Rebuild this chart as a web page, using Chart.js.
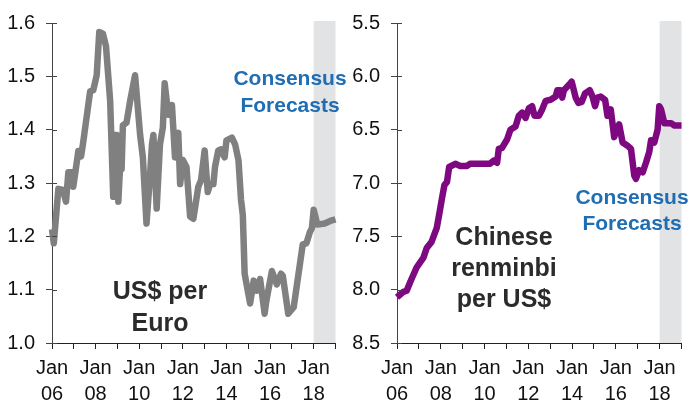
<!DOCTYPE html>
<html>
<head>
<meta charset="utf-8">
<script src="https://cdn.jsdelivr.net/npm/chart.js@4/dist/chart.umd.min.js"></script>
<style>
  html, body { margin: 0; padding: 0; background: #fff; }
  #wrap { position: relative; width: 691px; height: 409px; overflow: hidden; font-family: "Liberation Sans", Arial, sans-serif; }
  canvas { position: absolute; top: 0; }
  #euro-chart { left: 0; }
  #yuan-chart { left: 345px; }
  .note { position: absolute; text-align: center; font-weight: bold; white-space: nowrap; }
  .title { font-size: 25px; line-height: 32px; color: #2b2b2b; }
  .forecast { font-size: 21px; line-height: 27px; color: #1f6db3; }
</style>
</head>
<body>
<div id="wrap">
  <canvas id="euro-chart" width="345" height="409"></canvas>
  <canvas id="yuan-chart" width="346" height="409"></canvas>
  <div class="note title" style="left:60px; top:274px; width:200px;">US$ per<br>Euro</div>
  <div class="note title" style="left:404px; top:221px; width:200px; line-height:31px;">Chinese<br>renminbi<br>per US$</div>
  <div class="note forecast" style="left:190px; top:64px; width:200px;">Consensus<br>Forecasts</div>
  <div class="note forecast" style="left:532px; top:184px; width:200px; line-height:26px;">Consensus<br>Forecasts</div>
</div>
<script>
// months counted from Jan 2006
const euroMonths = [0, 1, 3.5, 6, 7.7, 9, 11, 11.7, 13, 14.5, 16, 17, 19, 21, 22.7, 24.6, 26, 28, 29.7, 32,
  33.7, 34.6, 35.6, 36.5, 37.4, 38.3, 39, 41, 43, 45.7, 48.5, 50, 52, 54, 55, 55.8, 57.6, 59.4, 61, 62,
  64, 66, 67.7, 69.5, 70.5, 72, 74, 76, 77.8, 80.5, 82, 84, 85.7, 87, 88.8, 89.7, 91.5, 93, 95, 96,
  99, 100.8, 102.6, 104, 105, 106, 109, 111, 112.7, 114.5, 117, 118, 121, 123.7, 126, 127, 130, 133, 136.5, 138,
  140, 142, 143, 144, 146, 150, 154, 156];
const euroRates = [1.213, 1.187, 1.289, 1.287, 1.265, 1.32, 1.32, 1.293, 1.324, 1.36, 1.35, 1.372, 1.422, 1.472, 1.474, 1.502, 1.583, 1.58, 1.557, 1.454,
  1.274, 1.39, 1.39, 1.265, 1.326, 1.326, 1.408, 1.413, 1.454, 1.502, 1.39, 1.348, 1.224, 1.317, 1.372, 1.39, 1.252, 1.372, 1.404, 1.487,
  1.428, 1.446, 1.348, 1.394, 1.298, 1.343, 1.33, 1.237, 1.233, 1.293, 1.305, 1.361, 1.283, 1.298, 1.298, 1.33, 1.361, 1.363, 1.348, 1.38,
  1.385, 1.372, 1.343, 1.269, 1.24, 1.13, 1.074, 1.117, 1.098, 1.12, 1.055, 1.08, 1.135, 1.11, 1.13, 1.126, 1.055, 1.067, 1.15, 1.185,
  1.187, 1.209, 1.215, 1.25, 1.222, 1.224, 1.23, 1.232];

const yuanMonths = [0, 3.5, 5.3, 7.2, 10.8, 14.5, 16.3, 19, 21.8, 23.7, 24.6, 26, 27.4, 28.6, 32, 34.7, 38.4, 40, 51, 53,
  54.9, 55.8, 57.6, 60.4, 62.2, 65, 66.8, 68.6, 70.5, 72.3, 74.1, 75.4, 77.8, 79.6, 81.5, 84.2, 87, 87.9, 89.7, 90.6,
  91.5, 94.3, 95.8, 98, 99.5, 101.3, 103.1, 105.7, 107.2, 108.6, 109.9, 111.7, 114.1, 115.4, 117.2, 119.1, 120.4, 121.8, 123.7, 126.4,
  128.3, 130.1, 131, 132.8, 134.7, 136.5, 138.3, 139.3, 141.1, 142.9, 143.8, 144.8, 146.6, 150.3, 152.1, 156];
const yuanRates = [8.07, 8.02, 8.01, 7.93, 7.79, 7.70, 7.61, 7.55, 7.42, 7.24, 7.15, 7.02, 6.99, 6.85, 6.82, 6.84, 6.84, 6.82, 6.82, 6.79,
  6.81, 6.68, 6.67, 6.59, 6.50, 6.47, 6.37, 6.34, 6.39, 6.30, 6.28, 6.37, 6.37, 6.31, 6.23, 6.22, 6.19, 6.13, 6.13, 6.20,
  6.13, 6.08, 6.05, 6.20, 6.25, 6.24, 6.16, 6.13, 6.19, 6.28, 6.20, 6.19, 6.22, 6.37, 6.31, 6.57, 6.50, 6.45, 6.62, 6.65,
  6.68, 6.93, 6.96, 6.88, 6.90, 6.81, 6.71, 6.60, 6.62, 6.50, 6.28, 6.31, 6.44, 6.44, 6.46, 6.46];

// labelled years on the time axis
const tickYears = ['06', '08', '10', '12', '14', '16', '18'];
const forecastStart = 144; // Jan 2018
const axisEnd = 156;       // Jan 2019

const points = (xs, ys) => xs.map((x, i) => ({ x: x, y: ys[i] }));

// grey band behind the forecast period
const forecastBand = {
  id: 'forecastBand',
  beforeDatasetsDraw(chart) {
    const { ctx, chartArea, scales } = chart;
    const x0 = scales.x.getPixelForValue(forecastStart);
    const x1 = scales.x.getPixelForValue(axisEnd);
    ctx.save();
    ctx.fillStyle = '#e2e3e5';
    ctx.fillRect(x0, chartArea.top - 2, x1 - x0, chartArea.bottom - chartArea.top + 2);
    ctx.restore();
  }
};

// y ticks cross the axis line, so add the short inner part
const innerTicks = {
  id: 'innerTicks',
  afterDraw(chart) {
    const { ctx, chartArea, scales } = chart;
    ctx.save();
    ctx.strokeStyle = '#444';
    ctx.lineWidth = 1;
    scales.y.ticks.forEach(t => {
      const y = Math.round(scales.y.getPixelForValue(t.value)) + 0.5;
      ctx.beginPath();
      ctx.moveTo(chartArea.left, y);
      ctx.lineTo(chartArea.left + 5, y);
      ctx.stroke();
    });
    ctx.restore();
  }
};

function makeChart(id, data, color, yOpts) {
  return new Chart(document.getElementById(id), {
    type: 'line',
    data: {
      datasets: [{
        data: data,
        borderColor: color,
        borderWidth: 6.5,
        borderJoinStyle: 'round',
        pointRadius: 0,
        tension: 0,
        clip: false
      }]
    },
    options: {
      responsive: false,
      animation: false,
      devicePixelRatio: 1,
      layout: { padding: { top: 18, right: 9.5, left: 0, bottom: 0 } },
      plugins: { legend: { display: false }, tooltip: { enabled: false } },
      scales: {
        x: {
          type: 'linear',
          min: 0,
          max: axisEnd,
          afterFit: s => { s.height = 66; },
          afterBuildTicks: s => {
            s.ticks = [];
            for (let m = 0; m <= axisEnd; m += 12) s.ticks.push({ value: m });
          },
          border: { color: '#222', width: 1 },
          grid: { drawOnChartArea: false, drawTicks: true, tickLength: 6, color: '#222' },
          ticks: {
            autoSkip: false,
            maxRotation: 0,
            padding: 6,
            color: '#111',
            font: { family: '"Liberation Sans", Arial, sans-serif', size: 20, lineHeight: 1.3 },
            callback: v => {
              const i = v / 24;
              return Number.isInteger(i) && i < tickYears.length ? ['Jan', tickYears[i]] : '';
            }
          }
        },
        y: Object.assign({
          afterFit: s => { s.width = 52; },
          border: { color: '#444', width: 1 },
          grid: { drawOnChartArea: false, drawTicks: true, tickLength: 6, color: '#444' },
          ticks: {
            padding: 11,
            color: '#111',
            font: { family: '"Liberation Sans", Arial, sans-serif', size: 20 },
            callback: v => v.toFixed(1)
          }
        }, yOpts)
      }
    },
    plugins: [forecastBand, innerTicks]
  });
}

makeChart('euro-chart', points(euroMonths, euroRates), '#808080',
  { min: 1.0, max: 1.6, afterBuildTicks: s => { s.ticks = [1.0, 1.1, 1.2, 1.3, 1.4, 1.5, 1.6].map(v => ({ value: v })); } });

makeChart('yuan-chart', points(yuanMonths, yuanRates), '#7d0880',
  { min: 5.5, max: 8.5, reverse: true, afterBuildTicks: s => { s.ticks = [5.5, 6.0, 6.5, 7.0, 7.5, 8.0, 8.5].map(v => ({ value: v })); } });
</script>
</body>
</html>
